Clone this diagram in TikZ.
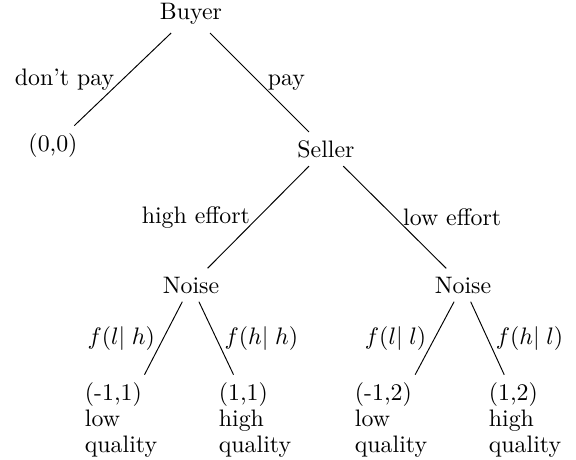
\documentclass[tikz,border=0pt]{standalone}
\begin{document}
\begin{tikzpicture}[x=0.4193pt,y=-0.4193pt,
  player/.style={inner sep=3.33pt},
  leaf/.style={align=left,inner sep=3.33pt},
  branch/.style={draw=black,line width=0.4pt}]
\useasboundingbox (0,0) rectangle (576,459);
\node[player] (buyer) at (191,14) {Buyer};
\node[player] (zero) at (53,146) {(0,0)};
\node[player] (seller) at (326,149) {Seller};
\node[player] (noiseL) at (191,285) {Noise};
\node[player] (noiseR) at (463,285) {Noise};
\node[leaf] (ll) at (121,420) {(-1,1)\\[-1.3pt]low\\[-1.3pt]quality};
\node[leaf] (lr) at (255,420) {(1,1)\\[-1.3pt]high\\[-1.3pt]quality};
\node[leaf] (rl) at (391,420) {(-1,2)\\[-1.3pt]low\\[-1.3pt]quality};
\node[leaf] (rr) at (525,420) {(1,2)\\[-1.3pt]high\\[-1.3pt]quality};
\draw[branch] (buyer) -- node[left] {don't pay} (zero);
\draw[branch] (buyer) -- node[right] {pay} (seller);
\draw[branch] (seller) -- node[left] {high effort} (noiseL);
\draw[branch] (seller) -- node[right] {low effort} (noiseR);
\draw[branch] (noiseL) -- node[left] {$f(l|\;h)$} (ll);
\draw[branch] (noiseL) -- node[right] {$f(h|\;h)$} (lr);
\draw[branch] (noiseR) -- node[left] {$f(l|\;l)$} (rl);
\draw[branch] (noiseR) -- node[right] {$f(h|\;l)$} (rr);
\end{tikzpicture}
\end{document}
